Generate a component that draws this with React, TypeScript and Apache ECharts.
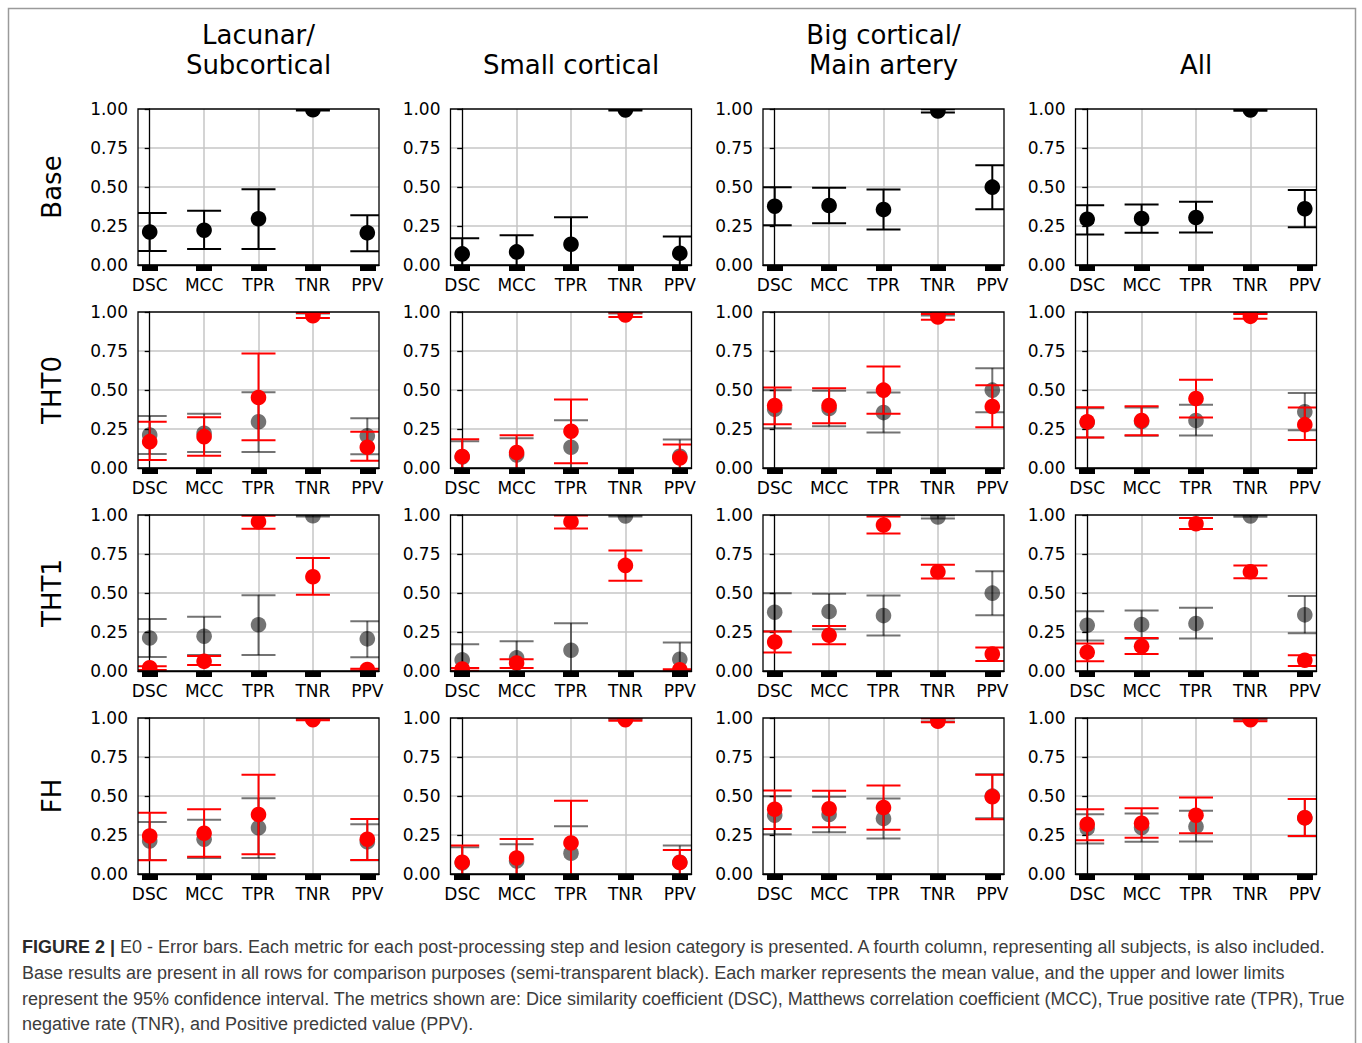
import React, { useEffect, useRef } from 'react';
import * as echarts from 'echarts';

// ---------- DATA ----------
const categories = ['DSC', 'MCC', 'TPR', 'TNR', 'PPV'];
const lesionGroups = ['Lacunar/\nSubcortical', 'Small cortical', 'Big cortical/\nMain artery', 'All'];
const steps = ['Base', 'THT0', 'THT1', 'FH'];
const yTicks = [0, 0.25, 0.5, 0.75, 1];

// Each array: one row per lesion group (Lacunar, Small cortical, Big cortical, All), values per metric
const baseMean = [
  [0.212, 0.223, 0.296, 0.995, 0.206],
  [0.071, 0.084, 0.133, 0.994, 0.075],
  [0.377, 0.381, 0.355, 0.987, 0.499],
  [0.293, 0.298, 0.304, 0.994, 0.36],
];
const baseLower = [
  [0.09, 0.103, 0.103, 0.99, 0.088],
  [-0.03, -0.02, -0.04, 0.99, -0.03],
  [0.255, 0.268, 0.227, 0.978, 0.358],
  [0.195, 0.206, 0.208, 0.988, 0.242],
];
const baseUpper = [
  [0.334, 0.347, 0.486, 0.999, 0.319],
  [0.171, 0.191, 0.306, 0.999, 0.182],
  [0.499, 0.495, 0.484, 0.998, 0.64],
  [0.383, 0.388, 0.405, 0.999, 0.48],
];

const tht0Mean = [
  [0.169, 0.201, 0.452, 0.976, 0.133],
  [0.073, 0.099, 0.236, 0.981, 0.064],
  [0.4, 0.4, 0.499, 0.968, 0.394],
  [0.296, 0.304, 0.445, 0.972, 0.278],
];
const tht0Lower = [
  [0.051, 0.079, 0.178, 0.961, 0.047],
  [-0.03, -0.02, 0.03, 0.968, -0.02],
  [0.281, 0.287, 0.347, 0.951, 0.261],
  [0.195, 0.21, 0.323, 0.957, 0.18],
];
const tht0Upper = [
  [0.296, 0.325, 0.734, 0.994, 0.233],
  [0.184, 0.21, 0.439, 0.996, 0.15],
  [0.516, 0.512, 0.651, 0.987, 0.531],
  [0.39, 0.396, 0.565, 0.987, 0.388],
];

const tht1Mean = [
  [0.021, 0.062, 0.957, 0.604, 0.01],
  [0.013, 0.051, 0.957, 0.677, 0.008],
  [0.186, 0.229, 0.936, 0.636, 0.109],
  [0.12, 0.158, 0.944, 0.636, 0.069],
];
const tht1Lower = [
  [0.006, 0.039, 0.912, 0.488, 0.003],
  [0.002, 0.019, 0.914, 0.578, 0.002],
  [0.118, 0.171, 0.882, 0.593, 0.064],
  [0.062, 0.109, 0.91, 0.595, 0.032],
];
const tht1Upper = [
  [0.03, 0.096, 0.995, 0.724, 0.015],
  [0.019, 0.075, 0.996, 0.773, 0.012],
  [0.253, 0.289, 0.991, 0.681, 0.15],
  [0.176, 0.212, 0.981, 0.677, 0.101],
];

const fhMean = [
  [0.244, 0.261, 0.381, 0.989, 0.223],
  [0.075, 0.103, 0.199, 0.989, 0.073],
  [0.415, 0.418, 0.426, 0.979, 0.495],
  [0.319, 0.325, 0.377, 0.989, 0.36],
];
const fhLower = [
  [0.088, 0.111, 0.126, 0.985, 0.09],
  [-0.03, -0.02, -0.05, 0.983, -0.01],
  [0.289, 0.3, 0.283, 0.972, 0.351],
  [0.216, 0.233, 0.261, 0.979, 0.244],
];
const fhUpper = [
  [0.392, 0.415, 0.636, 0.999, 0.353],
  [0.182, 0.225, 0.469, 0.999, 0.154],
  [0.535, 0.533, 0.567, 0.999, 0.636],
  [0.415, 0.422, 0.49, 0.999, 0.48],
];

const captionLines = [
  'E0 - Error bars. Each metric for each post-processing step and lesion category is presented. A fourth column, representing all subjects, is also included.',
  'Base results are present in all rows for comparison purposes (semi-transparent black). Each marker represents the mean value, and the upper and lower limits',
  'represent the 95% confidence interval. The metrics shown are: Dice similarity coefficient (DSC), Matthews correlation coefficient (MCC), True positive rate (TPR), True',
  'negative rate (TNR), and Positive predicted value (PPV).',
];

// ---------- LAYOUT ----------
const colLeft = [138, 450.5, 763, 1075.5];
const rowTop = [109, 312, 515, 718];
const panelW = 241;
const panelH = 156;
const FONT = 'DejaVu Sans';

const stepData = [
  [baseMean, baseLower, baseUpper],
  [tht0Mean, tht0Lower, tht0Upper],
  [tht1Mean, tht1Lower, tht1Upper],
  [fhMean, fhLower, fhUpper],
];

function errSeries(idx: number, mean: number[], lo: number[], hi: number[], color: string) {
  return {
    type: 'custom',
    xAxisIndex: idx,
    yAxisIndex: idx,
    clip: true,
    silent: true,
    data: categories.map((_, i) => [i, mean[i], lo[i], hi[i]]),
    encode: { x: 0, y: [1, 2, 3] },
    renderItem: (params: any, api: any) => {
      const x = api.value(0);
      const m = api.coord([x, api.value(1)]);
      const a = api.coord([x, api.value(2)]);
      const b = api.coord([x, api.value(3)]);
      const cap = 17;
      const style = { stroke: color, lineWidth: 2, fill: 'none' };
      return {
        type: 'group',
        children: [
          { type: 'line', shape: { x1: a[0], y1: a[1], x2: b[0], y2: b[1] }, style },
          { type: 'line', shape: { x1: a[0] - cap, y1: a[1], x2: a[0] + cap, y2: a[1] }, style },
          { type: 'line', shape: { x1: b[0] - cap, y1: b[1], x2: b[0] + cap, y2: b[1] }, style },
          { type: 'circle', shape: { cx: m[0], cy: m[1], r: 7.8 }, style: { fill: color, stroke: 'none' } },
        ],
      };
    },
  };
}

function buildOption() {
  const grid: any[] = [];
  const xAxis: any[] = [];
  const yAxis: any[] = [];
  const series: any[] = [];
  const graphic: any[] = [];
  const gridLine = { color: '#c6c6c6', width: 1.5 };

  for (let r = 0; r < 4; r++) {
    for (let c = 0; c < 4; c++) {
      const idx = r * 4 + c;
      grid.push({ left: colLeft[c], top: rowTop[r], width: panelW, height: panelH, show: false, containLabel: false });
      xAxis.push({
        type: 'value',
        gridIndex: idx,
        min: -0.215,
        max: 4.215,
        axisLine: { show: true, onZero: false, lineStyle: { color: '#000', width: 1.3 } },
        axisTick: { show: true, customValues: [0, 1, 2, 3, 4], length: 6, lineStyle: { color: '#000', width: 16 } },
        axisLabel: {
          show: true,
          customValues: [0, 1, 2, 3, 4],
          formatter: (v: number) => categories[Math.round(v)] ?? '',
          margin: 11,
          fontSize: 17,
          fontFamily: FONT,
          color: '#000',
        },
        splitLine: { show: true, showMinLine: false, showMaxLine: false, lineStyle: gridLine },
      });
      yAxis.push({
        type: 'value',
        gridIndex: idx,
        min: 0,
        max: 1,
        interval: 0.25,
        axisLine: { show: true, lineStyle: { color: '#000', width: 1.3 } },
        axisTick: { show: true, length: 5, lineStyle: { color: '#000', width: 1.3 } },
        axisLabel: {
          show: true,
          formatter: (v: number) => v.toFixed(2),
          margin: 10,
          fontSize: 17,
          fontFamily: FONT,
          color: '#000',
        },
        splitLine: { show: true, showMinLine: false, showMaxLine: false, lineStyle: gridLine },
      });

      const [bm, bl, bu] = stepData[0];
      if (r === 0) {
        series.push(errSeries(idx, bm[c], bl[c], bu[c], '#000000'));
      } else {
        series.push(errSeries(idx, bm[c], bl[c], bu[c], 'rgba(0,0,0,0.55)'));
        const [m, l, u] = stepData[r];
        series.push(errSeries(idx, m[c], l[c], u[c], '#ff0000'));
      }

      graphic.push({
        type: 'rect',
        z: 100,
        silent: true,
        shape: { x: colLeft[c], y: rowTop[r], width: panelW, height: panelH },
        style: { fill: 'none', stroke: '#000', lineWidth: 1.3 },
      });
    }
  }

  // column titles
  lesionGroups.forEach((t, c) => {
    const lines = t.split('\n');
    const cx = colLeft[c] + panelW / 2;
    lines.forEach((ln, k) => {
      const y = lines.length === 2 ? 35 + k * 30 : 65;
      graphic.push({
        type: 'text',
        x: cx,
        y,
        silent: true,
        style: { text: ln, fill: '#000', font: `26px "${FONT}"`, textAlign: 'center', textVerticalAlign: 'middle' },
      });
    });
  });

  // row labels
  steps.forEach((s, r) => {
    graphic.push({
      type: 'text',
      x: 52,
      y: rowTop[r] + panelH / 2,
      rotation: Math.PI / 2,
      silent: true,
      style: { text: s, fill: '#000', font: `26px "${FONT}"`, textAlign: 'center', textVerticalAlign: 'middle' },
    });
  });

  // outer frame
  graphic.push({
    type: 'rect',
    silent: true,
    shape: { x: 8.5, y: 8.5, width: 1347, height: 1060 },
    style: { fill: 'none', stroke: '#9a9a9a', lineWidth: 1.5 },
  });

  // caption
  const capFont = '"Liberation Sans", Arial, sans-serif';
  const capY = [947, 973, 998.5, 1024];
  captionLines.forEach((ln, k) => {
    graphic.push({
      type: 'text',
      x: 22,
      y: capY[k],
      silent: true,
      style: k === 0
        ? {
            text: '{b|FIGURE 2 |} ' + ln,
            fill: '#3c3c3c',
            font: `18px ${capFont}`,
            textVerticalAlign: 'middle',
            rich: { b: { fontWeight: 'bold', fontSize: 18, fontFamily: capFont, fill: '#2a2a2a', color: '#2a2a2a' } },
          }
        : { text: ln, fill: '#3c3c3c', font: `18px ${capFont}`, textVerticalAlign: 'middle' },
    });
  });

  return {
    animation: false,
    backgroundColor: '#ffffff',
    grid,
    xAxis,
    yAxis,
    series,
    graphic,
  };
}

export default function App() {
  const ref = useRef<HTMLDivElement>(null);
  useEffect(() => {
    const chart = echarts.init(ref.current as HTMLDivElement, null, { renderer: 'svg' });
    chart.setOption(buildOption() as any);
    return () => chart.dispose();
  }, []);
  return (
    <div
      ref={ref}
      style={{ position: 'absolute', left: 0, top: 0, width: 1362, height: 1043, background: '#fff' }}
    />
  );
}
